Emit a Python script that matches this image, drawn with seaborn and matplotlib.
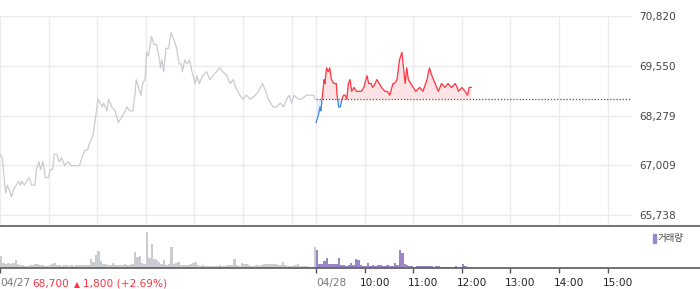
import numpy as np
import pandas as pd
import matplotlib
matplotlib.use("Agg")
import matplotlib.pyplot as plt
from matplotlib.patches import Rectangle
from matplotlib.transforms import ScaledTranslation
import seaborn as sns

# ---------------- data ----------------
# minutes from 04/27 09:00 (04/28 09:00 = 390)
day1_min = [0, 3, 5, 7, 9, 11, 14, 17, 20, 23, 25, 27, 30, 33, 36, 39, 43, 45, 48, 50,
            53, 56, 60, 62, 65, 67, 70, 73, 76, 80, 84, 88, 93, 98, 101, 105, 108, 111, 115, 117,
            119, 121, 126, 128, 132, 134, 138, 142, 146, 149, 152, 157, 160, 164, 167, 168, 171, 174, 176, 179,
            181, 183, 187, 190, 193, 197, 198, 200, 202, 205, 208, 211, 215, 218, 221, 224, 225, 228, 231, 234,
            237, 241, 243, 246, 250, 255, 259, 263, 267, 271, 275, 280, 284, 288, 291, 296, 300, 304, 309, 315,
            319, 324, 328, 331, 337, 341, 346, 350, 354, 357, 360, 363, 368, 372, 378, 387, 389]
day1_price = [67300, 67200, 66700, 66300, 66500, 66400, 66200, 66400, 66500, 66600, 66500, 66600, 66500, 66600, 66700, 66500, 66500, 66900, 67100, 66900,
              67100, 66700, 66700, 66900, 66900, 67300, 67300, 67100, 67200, 67000, 67100, 67000, 67000, 67000, 67200, 67400, 67400, 67600, 67800, 68100,
              68400, 68700, 68500, 68600, 68400, 68700, 68500, 68400, 68100, 68200, 68300, 68500, 68400, 68400, 68900, 69200, 69000, 68800, 69100, 69200,
              69900, 69800, 70300, 70100, 70100, 69700, 69500, 69700, 69400, 70000, 70000, 70400, 70200, 70000, 69600, 69600, 69400, 69700, 69600, 69700,
              69400, 69100, 69300, 69100, 69300, 69400, 69200, 69300, 69400, 69500, 69400, 69300, 69100, 69200, 69000, 68800, 68700, 68800, 68700, 68800,
              68900, 69100, 68900, 68700, 68500, 68500, 68600, 68500, 68700, 68800, 68600, 68800, 68700, 68700, 68800, 68800, 68700]

day2_min = [390, 393, 395, 396, 397, 400, 401, 403, 405, 407, 409, 412, 415, 416, 418, 420, 422, 424, 426, 428,
            430, 432, 434, 437, 440, 443, 446, 449, 453, 455, 458, 460, 463, 465, 468, 471, 475, 478, 481, 485,
            487, 490, 493, 496, 498, 500, 502, 504, 507, 510, 513, 518, 522, 527, 530, 533, 537, 541, 545, 549,
            553, 557, 562, 566, 570, 574, 577, 579, 582]
day2_price = [68100, 68300, 68500, 68400, 68600, 69200, 69100, 69500, 69400, 69500, 69200, 69100, 69100, 68800, 68500, 68500, 68700, 68800, 68800, 68700,
              69100, 69200, 68900, 69000, 68900, 68900, 68900, 69000, 69300, 69100, 69100, 69000, 69100, 69200, 69100, 69000, 68900, 68900, 68800, 69100,
              69100, 69200, 69700, 69900, 69500, 69100, 69500, 69200, 69100, 69000, 68900, 69000, 68900, 69200, 69500, 69300, 69100, 68900, 69100, 69000,
              69100, 69000, 69100, 68900, 69000, 68900, 68800, 69000, 69000]

prev_close = 68700
y_ticks = [65738, 67009, 68279, 69550, 70820]

# volume, 3-minute bins (relative units)
day1_vol = [12, 5, 4, 5, 4, 5, 8, 4, 3, 3, 2, 2, 3, 3, 4, 4, 3, 3, 2, 2,
            3, 4, 5, 3, 3, 2, 3, 3, 2, 3, 2, 3, 3, 3, 3, 3, 3, 9, 6, 13,
            17, 7, 4, 4, 3, 3, 5, 3, 3, 3, 3, 4, 3, 3, 4, 16, 11, 12, 5, 4,
            36, 10, 24, 9, 8, 6, 4, 8, 3, 4, 21, 4, 5, 6, 3, 3, 3, 3, 4, 5,
            6, 3, 2, 3, 2, 2, 2, 2, 2, 2, 3, 2, 2, 3, 3, 3, 9, 3, 2, 5,
            4, 4, 3, 2, 2, 3, 2, 3, 4, 4, 4, 4, 4, 4, 3, 3, 6, 3, 2, 2,
            2, 3, 4, 2, 2, 2, 2, 0, 0, 21]
day2_vol = [18, 4, 4, 7, 10, 4, 4, 4, 4, 10, 3, 3, 2, 3, 5, 3, 9, 8, 3, 2,
            2, 5, 2, 3, 2, 3, 3, 2, 2, 3, 2, 2, 5, 3, 18, 15, 4, 3, 2, 2,
            1, 2, 2, 2, 2, 2, 2, 2, 1, 2, 2, 1, 1, 1, 1, 1, 1, 2, 1, 1,
            4, 2, 1]

x_tick_min = [0, 390, 450, 510, 570, 630, 690, 750]
x_tick_labels = ["04/27", "04/28", "10:00", "11:00", "12:00", "13:00", "14:00", "15:00"]
grid_min = [0, 60, 120, 180, 240, 300, 360, 390, 450, 510, 570, 630, 690, 750]
info_close = "68,700"
info_change = "1,800 (+2.69%)"
legend_label = "거래량"

# ---------------- style ----------------
sns.set_theme(style="white")
plt.rcParams["font.family"] = ["DejaVu Sans", "Noto Sans CJK KR"]

GRAY_LINE = "#c8cbd0"
RED = "#ff3341"
RED_FILL = "#fde3e5"
BLUE = "#3d83e0"
BLUE_FILL = "#e7eef9"
PURPLE = "#9a86c8"
VOL_GRAY = "#c9ccd1"
GRID = "#ebebeb"

W, H = 700, 289
fig = plt.figure(figsize=(W / 100, H / 100), dpi=100)

# ---------------- price panel ----------------
ax = fig.add_axes([0, 1 - 226 / H, 632 / W, (226 - 16) / H])
ax.set_xlim(0, 780)
ax.set_ylim(65457, 70826)
for s in ax.spines.values():
    s.set_visible(False)
ax.set_axisbelow(True)
ax.set_xticks(grid_min)
ax.set_yticks(y_ticks)
ax.grid(True, color=GRID, linewidth=1)
ax.tick_params(axis="x", length=0, labelbottom=False)
ax.yaxis.tick_right()
ax.set_yticklabels([f"{v:,}" for v in y_ticks])
ax.tick_params(axis="y", length=0, pad=5, labelsize=7.6, labelcolor="#444444")

d1 = pd.DataFrame({"t": day1_min, "p": day1_price})
d2 = pd.DataFrame({"t": day2_min, "p": day2_price})

sns.lineplot(data=d1, x="t", y="p", color=GRAY_LINE, linewidth=0.9, estimator=None, ax=ax)

t2 = np.array(day2_min, dtype=float)
p2 = np.array(day2_price, dtype=float)
ax.fill_between(t2, p2, prev_close, where=p2 >= prev_close, interpolate=True,
                color=RED_FILL, linewidth=0, zorder=1.5)
ax.fill_between(t2, p2, prev_close, where=p2 <= prev_close, interpolate=True,
                color=BLUE_FILL, linewidth=0, zorder=1.5)

ax.axhline(prev_close, xmin=390 / 780, xmax=1, color="#555555", linewidth=0.9,
           linestyle=(0, (1, 1.5)), zorder=2)

n_before = len(ax.lines)
sns.lineplot(data=d2, x="t", y="p", color=RED, linewidth=0.9, estimator=None, ax=ax)
red_line = ax.lines[n_before]
sns.lineplot(data=d2, x="t", y="p", color=BLUE, linewidth=0.9, estimator=None, ax=ax)
blue_line = ax.lines[n_before + 1]
up_rect = Rectangle((380, prev_close), 420, 5000, transform=ax.transData, visible=False)
dn_rect = Rectangle((380, prev_close - 5000), 420, 5000, transform=ax.transData, visible=False)
ax.add_patch(up_rect)
ax.add_patch(dn_rect)
red_line.set_clip_path(up_rect)
blue_line.set_clip_path(dn_rect)
red_line.set_zorder(3)
blue_line.set_zorder(3)
ax.set_xlabel("")
ax.set_ylabel("")

# ---------------- volume panel ----------------
vax = fig.add_axes([0, 1 - 268 / H, 1, (268 - 225.5) / H])
t1_start = np.arange(0, 3 * len(day1_vol), 3)
t2_start = np.arange(390, 390 + 3 * len(day2_vol), 3)
vax.bar(t1_start, day1_vol, width=3, align="edge", color=VOL_GRAY, linewidth=0)
vax.bar(t2_start, day2_vol, width=3, align="edge", color=PURPLE, linewidth=0)
vax.set_xlim(0, 780 * W / 632)
vax.set_ylim(0, 42.1)
vax.set_xlabel("")
vax.set_ylabel("")
vax.set_yticks([])
for side in ["left", "right"]:
    vax.spines[side].set_visible(False)
for side in ["top", "bottom"]:
    vax.spines[side].set_color("#666666")
    vax.spines[side].set_linewidth(1.3)
vax.set_xticks(x_tick_min)
vax.set_xticklabels(x_tick_labels)
vax.tick_params(axis="x", direction="out", length=3.5, width=1, color="#555555",
                pad=4, labelsize=7.6, bottom=True)
shift = ScaledTranslation(10 / 100, 0, fig.dpi_scale_trans)
for i, lab in enumerate(vax.get_xticklabels()):
    if i < 2:
        lab.set_ha("left")
        lab.set_color("#777777")
    else:
        lab.set_ha("center")
        lab.set_color("#222222")
        lab.set_transform(lab.get_transform() + shift)

# info text next to 04/27
base_y = 1 - 286.6 / H
fig.text(32 / W, base_y, info_close, color=RED, fontsize=7.6, va="baseline", ha="left")
fig.text(73.5 / W, base_y, "\u25B2", color=RED, fontsize=5.6, va="baseline", ha="left")
fig.text(83 / W, base_y, info_change, color=RED, fontsize=7.6, va="baseline", ha="left")

# legend
fig.patches.append(Rectangle((652.5 / W, 1 - 242.5 / H), 3 / W, 8.5 / H,
                             transform=fig.transFigure, color=PURPLE, figure=fig))
fig.text(658 / W, 1 - 238.5 / H, legend_label, color="#444444", fontsize=6.8,
         va="center", ha="left", family=["Noto Sans CJK KR", "DejaVu Sans"])

fig.savefig("out.png", dpi=100)
